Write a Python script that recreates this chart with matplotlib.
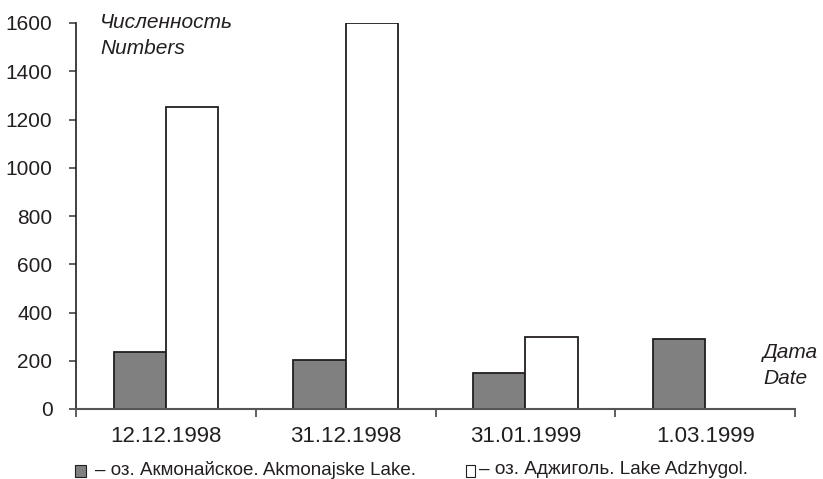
import matplotlib
matplotlib.use("Agg")
import matplotlib.pyplot as plt
from matplotlib.patches import Rectangle
import numpy as np

categories = ["12.12.1998", "31.12.1998", "31.01.1999", "1.03.1999"]
akmonay = [235, 203, 150, 290]
adzhygol = [1250, 1600, 300, 0]
yticks = [0, 200, 400, 600, 800, 1000, 1200, 1400, 1600]

plt.rcParams['font.family'] = ['Liberation Sans', 'DejaVu Sans']

fig = plt.figure(figsize=(8.23, 4.79), dpi=100)
ax = fig.add_axes([76/823, 1-409/479, (795-76)/823, (409-23)/479])

x = np.arange(len(categories))
w = 0.29
ax.bar(x - w/2, akmonay, w, color="#808080", edgecolor="#231f20", linewidth=1.3)
ax.bar(x + w/2, adzhygol, w, color="white", edgecolor="#231f20", linewidth=1.3)

ax.set_xlim(-0.5, len(categories) - 0.5)
ax.set_ylim(0, 1600)
ax.set_yticks(yticks)
ax.set_yticklabels([str(v) for v in yticks], fontsize=15, color="#231f20")
ax.set_xticks(np.arange(len(categories) + 1) - 0.5)
ax.set_xticklabels([])
ax.set_xticks(x, minor=True)
ax.set_xticklabels(categories, minor=True, fontsize=16, color="#231f20")
ax.tick_params(axis='x', which='minor', length=0, pad=12)
ax.tick_params(axis='x', which='major', length=6, width=1.2, color="#444444", direction='out')
ax.tick_params(axis='y', length=5, width=1.2, color="#444444", pad=12, direction='out')
for s in ['top', 'right']:
    ax.spines[s].set_visible(False)
ax.spines['left'].set_color("#231f20")
ax.spines['left'].set_linewidth(1.2)
ax.spines['bottom'].set_color("#555555")
ax.spines['bottom'].set_linewidth(1.5)

fig.text(100/823, 1-23/479, "Численность", fontsize=15, style='italic', va='center', ha='left', color="#231f20")
fig.text(100/823, 1-48/479, "Numbers", fontsize=15, style='italic', va='center', ha='left', color="#231f20")
fig.text(763/823, 1-352/479, "Дата", fontsize=15, style='italic', va='center', ha='left', color="#231f20")
fig.text(763/823, 1-378/479, "Date", fontsize=15, style='italic', va='center', ha='left', color="#231f20")

# legend
fig.patches.append(Rectangle((75/823, 1-477/479), 11/823, 12/479, transform=fig.transFigure,
                             facecolor="#808080", edgecolor="#231f20", linewidth=0.8))
fig.text(95/823, 1-470/479, "– оз. Акмонайское. Akmonajske Lake.", fontsize=13.5, va='center', ha='left', color="#231f20")
fig.patches.append(Rectangle((466/823, 1-477/479), 9/823, 12/479, transform=fig.transFigure,
                             facecolor="white", edgecolor="#231f20", linewidth=0.8))
fig.text(479/823, 1-470/479, "– оз. Аджиголь. Lake Adzhygol.", fontsize=13.7, va='center', ha='left', color="#231f20")

fig.savefig("out.png", dpi=100)
